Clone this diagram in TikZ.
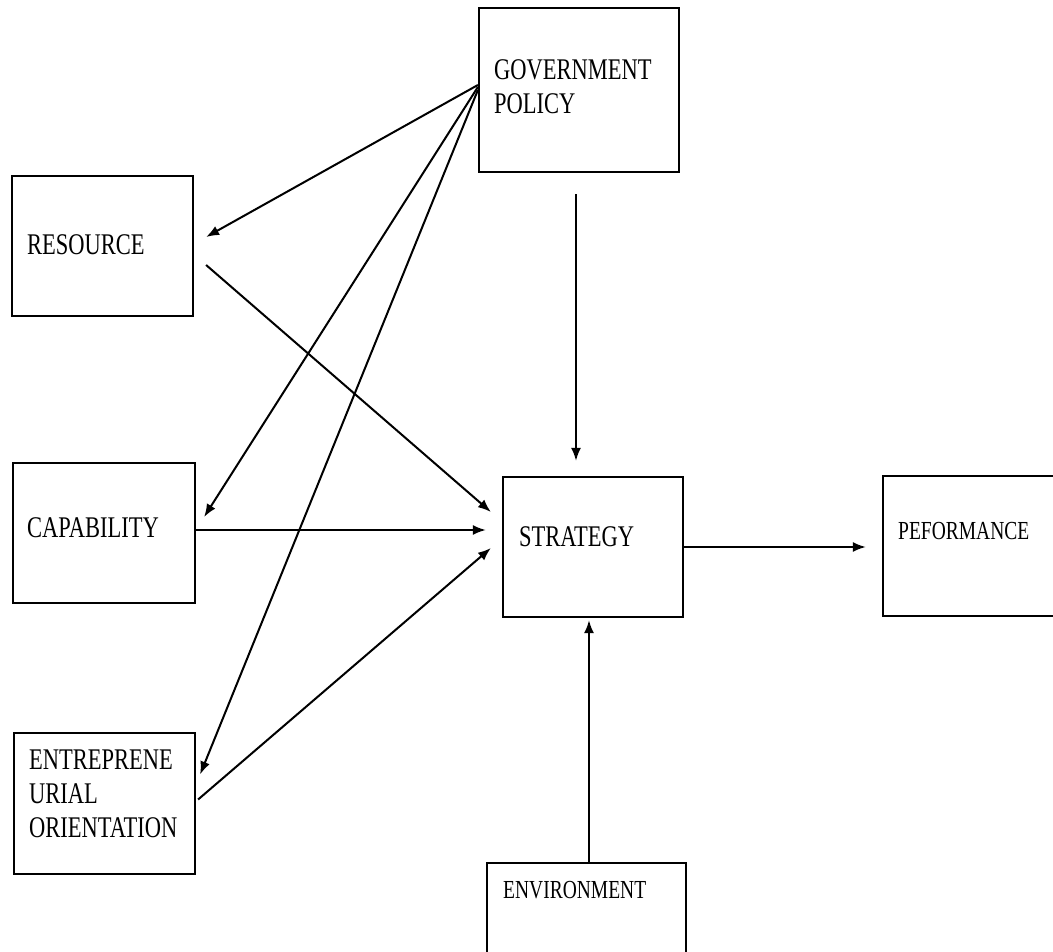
\documentclass[tikz,border=0pt]{standalone}
\usepackage{fontspec}
\setmainfont[FakeStretch=0.75]{Liberation Serif}
\usetikzlibrary{calc,arrows.meta}

\tikzset{
  box/.style={draw, line width=2.2pt, inner sep=0pt, minimum width=#1},
  box/.default=181pt,
  lbl/.style={inner sep=0pt, anchor=north west, align=left,
              font=\fontsize{30}{34}\selectfont},
  lblsmall/.style={lbl, font=\fontsize{26}{30}\selectfont},
  arr/.style={line width=2pt, -{Latex[length=13pt,width=10pt]}},
  link/.style={line width=2pt}
}

\begin{document}
\begin{tikzpicture}[x=1pt,y=-1pt]
  \useasboundingbox (0,0) rectangle (1053,952);
  \clip (0,0) rectangle (1053,952);

  % boxes
  \node[box=200pt, minimum height=164pt] (gov) at (579,90) {};
  \node[box=181pt, minimum height=140pt] (res) at (102.5,246) {};
  \node[box=182pt, minimum height=140pt] (cap) at (104,533) {};
  \node[box=181pt, minimum height=141pt] (ent) at (104.5,803.5) {};
  \node[box=180pt, minimum height=140pt] (str) at (593,547) {};
  \node[box=184pt, minimum height=140pt] (per) at (975,546) {};
  \node[box=199pt, minimum height=140pt] (env) at (586.5,933) {};

  % texts
  \node[lbl] (govt) at (494,59) {GOVERNMENT\\POLICY};
  \node[lbl] (rest) at (27,234) {RESOURCE};
  \node[lbl] (capt) at (27,517) {CAPABILITY};
  \node[lbl] (entt) at (29,750) {ENTREPRENE\\URIAL\\ORIENTATION};
  \node[lbl] (strt) at (519,526) {STRATEGY};
  \node[lblsmall] (pert) at (898,522) {PEFORMANCE};
  \node[lblsmall] (envt) at (503,881) {ENVIRONMENT};

  % government policy to the three inputs
  \draw[arr] ($(gov.west)+(0,-5)$) -- ($(res.east)+(12,-9)$);
  \draw[arr] ($(gov.west)+(0,-3)$) -- ($(cap.east)+(8,-16)$);
  \draw[arr] ($(gov.west)+(0,0)$)  -- ($(ent.east)+(4,-29)$);

  % government policy to strategy
  \draw[arr] ($(gov.south)+(-3,21)$) -- ($(str.north)+(-17,-15)$);

  % inputs to strategy
  \draw[arr] ($(res.east)+(12,19)$) -- ($(str.west)+(-11,-35)$);
  \draw[arr] (cap.east |- 0,530) -- ($(str.west)+(-16,-17)$);
  \draw[arr] ($(ent.east)+(2,-4)$) -- ($(str.west)+(-11,1)$);

  % strategy to performance
  \draw[arr] (str.east) -- ($(per.west)+(-16,1)$);

  % environment to strategy
  \draw[arr] ($(env.north)+(2.5,0)$) -- ($(str.south)+(-4,2)$);
\end{tikzpicture}
\end{document}
